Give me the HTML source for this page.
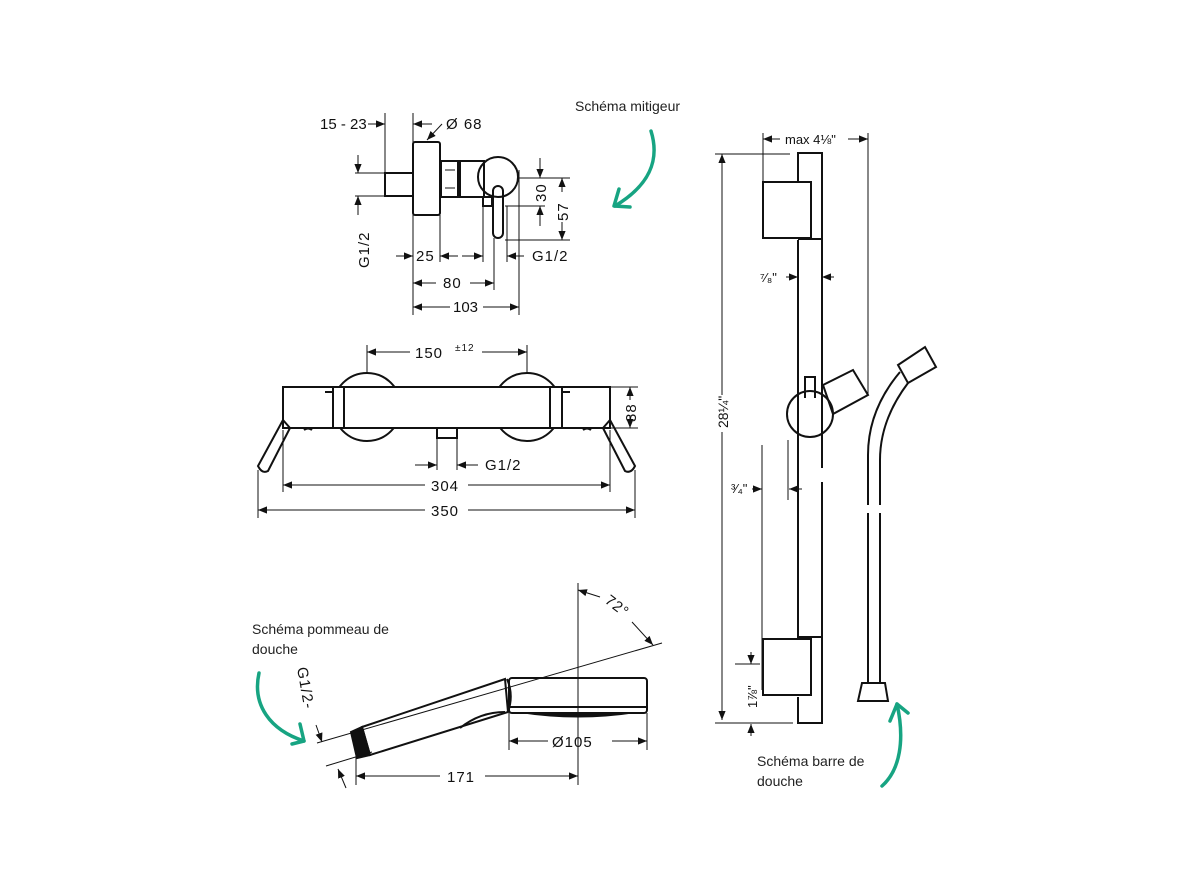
<!DOCTYPE html>
<html><head><meta charset="utf-8"><style>
html,body{margin:0;padding:0;background:#fff;}
svg{display:block;}
text{font-family:"Liberation Sans",sans-serif;fill:#111;}
.l{fill:none;stroke:#111;stroke-width:2;}
.t{fill:none;stroke:#111;stroke-width:1;}
.g{fill:none;stroke:#17a482;stroke-width:3.5;stroke-linecap:round;stroke-linejoin:round;}
.lab{font-size:14px;fill:#222;}
.d{font-size:15px;letter-spacing:1px;}
</style></head><body>
<svg width="1190" height="892" viewBox="0 0 1190 892" xmlns="http://www.w3.org/2000/svg">
<defs>
<marker id="a" viewBox="0 0 10 10" refX="10" refY="5" markerWidth="9" markerHeight="9" orient="auto-start-reverse" markerUnits="userSpaceOnUse"><path d="M0,1 L10,5 L0,9 z" fill="#111"/></marker>
</defs>

<!-- ================= MIXER (top) ================= -->
<rect class="l" x="385" y="173" width="28" height="23"/>
<rect class="l" x="413" y="142" width="27" height="73" rx="2"/>
<rect class="l" x="441" y="161" width="17" height="36"/>
<line class="t" x1="445" y1="170" x2="455" y2="170"/><line class="t" x1="445" y1="188" x2="455" y2="188"/>
<rect class="l" x="460" y="161" width="24" height="36"/>
<circle class="l" cx="498" cy="177" r="20" fill="#fff"/>
<rect class="l" x="483" y="197" width="9" height="9"/>
<rect class="l" x="493" y="186" width="10" height="52" rx="5" fill="#fff"/>
<line class="t" x1="385" y1="113" x2="385" y2="173"/>
<line class="t" x1="413" y1="113" x2="413" y2="315"/>
<line class="t" x1="440" y1="215" x2="440" y2="262"/>
<line class="t" x1="483" y1="206" x2="483" y2="262"/>
<line class="t" x1="494" y1="238" x2="494" y2="290"/>
<line class="t" x1="507" y1="206" x2="507" y2="262"/>
<line class="t" x1="519" y1="170" x2="519" y2="315"/>
<line class="t" x1="355" y1="173" x2="385" y2="173"/>
<line class="t" x1="355" y1="196" x2="385" y2="196"/>
<line class="t" x1="518" y1="178" x2="570" y2="178"/>
<line class="t" x1="505" y1="206" x2="545" y2="206"/>
<line class="t" x1="505" y1="240" x2="570" y2="240"/>
<text class="d" x="320" y="129" style="letter-spacing:0">15 - 23</text>
<line class="t" x1="368" y1="124" x2="385" y2="124" marker-end="url(#a)"/>
<line class="t" x1="432" y1="124" x2="413" y2="124" marker-end="url(#a)"/>
<text class="d" x="446" y="129">Ø 68</text>
<line class="t" x1="442" y1="124" x2="427" y2="140" marker-end="url(#a)"/>
<line class="t" x1="358" y1="155" x2="358" y2="173" marker-end="url(#a)"/>
<line class="t" x1="358" y1="215" x2="358" y2="196" marker-end="url(#a)"/>
<text class="d" transform="translate(369,268) rotate(-90)">G1/2</text>
<line class="t" x1="540" y1="158" x2="540" y2="178" marker-end="url(#a)"/>
<line class="t" x1="540" y1="226" x2="540" y2="206" marker-end="url(#a)"/>
<text class="d" transform="translate(546,202) rotate(-90)">30</text>
<line class="t" x1="562" y1="192" x2="562" y2="178" marker-end="url(#a)"/>
<line class="t" x1="562" y1="222" x2="562" y2="240" marker-end="url(#a)"/>
<text class="d" transform="translate(568,221) rotate(-90)">57</text>
<line class="t" x1="396" y1="256" x2="413" y2="256" marker-end="url(#a)"/>
<text class="d" x="416" y="261">25</text>
<line class="t" x1="458" y1="256" x2="440" y2="256" marker-end="url(#a)"/>
<line class="t" x1="462" y1="256" x2="483" y2="256" marker-end="url(#a)"/>
<line class="t" x1="524" y1="256" x2="507" y2="256" marker-end="url(#a)"/>
<text class="d" x="532" y="261">G1/2</text>
<line class="t" x1="436" y1="283" x2="413" y2="283" marker-end="url(#a)"/>
<line class="t" x1="470" y1="283" x2="494" y2="283" marker-end="url(#a)"/>
<text class="d" x="443" y="288">80</text>
<line class="t" x1="450" y1="307" x2="413" y2="307" marker-end="url(#a)"/>
<line class="t" x1="483" y1="307" x2="519" y2="307" marker-end="url(#a)"/>
<text class="d" x="453" y="312" style="letter-spacing:0">103</text>

<text class="lab" x="575" y="111">Schéma mitigeur</text>
<path class="g" d="M651,131 C660,160 650,185 615,206"/>
<path class="g" d="M619,189 L614,206 L630,207"/>

<!-- ================= THERMOSTAT ================= -->
<circle class="l" cx="367" cy="407" r="34"/>
<circle class="l" cx="527" cy="407" r="34"/>
<rect x="283" y="387" width="327" height="41" fill="#fff" stroke="#111" stroke-width="2"/>
<line class="l" x1="333" y1="387" x2="333" y2="428"/><line class="l" x1="344" y1="387" x2="344" y2="428"/>
<line class="l" x1="550" y1="387" x2="550" y2="428"/><line class="l" x1="562" y1="387" x2="562" y2="428"/>
<line class="l" x1="325" y1="392" x2="333" y2="392"/><line class="l" x1="562" y1="392" x2="570" y2="392"/>
<path class="l" d="M304,430 q4,-3 8,0"/><path class="l" d="M583,430 q4,-3 8,0"/>
<rect class="l" x="437" y="428" width="20" height="10"/>
<path class="l" d="M283,420 L290,428 L268,471 Q262,474 258,466 Z" fill="#fff"/>
<path class="l" d="M610,420 L603,428 L625,471 Q631,474 635,466 Z" fill="#fff"/>
<line class="t" x1="367" y1="345" x2="367" y2="373"/><line class="t" x1="527" y1="345" x2="527" y2="373"/>
<line class="t" x1="410" y1="352" x2="367" y2="352" marker-end="url(#a)"/>
<line class="t" x1="482" y1="352" x2="527" y2="352" marker-end="url(#a)"/>
<text class="d" x="415" y="358">150</text><text x="455" y="351" style="font-size:10px;letter-spacing:1px">±12</text>
<line class="t" x1="610" y1="387" x2="638" y2="387"/><line class="t" x1="610" y1="428" x2="638" y2="428"/>
<line class="t" x1="630" y1="400" x2="630" y2="387" marker-end="url(#a)"/>
<line class="t" x1="630" y1="415" x2="630" y2="428" marker-end="url(#a)"/>
<text class="d" transform="translate(636,422) rotate(-90)">38</text>
<line class="t" x1="437" y1="438" x2="437" y2="470"/><line class="t" x1="457" y1="438" x2="457" y2="470"/>
<line class="t" x1="415" y1="465" x2="437" y2="465" marker-end="url(#a)"/>
<line class="t" x1="478" y1="465" x2="457" y2="465" marker-end="url(#a)"/>
<text class="d" x="485" y="470">G1/2</text>
<line class="t" x1="283" y1="430" x2="283" y2="492"/><line class="t" x1="610" y1="430" x2="610" y2="492"/>
<line class="t" x1="258" y1="470" x2="258" y2="518"/><line class="t" x1="635" y1="470" x2="635" y2="518"/>
<line class="t" x1="425" y1="485" x2="283" y2="485" marker-end="url(#a)"/>
<line class="t" x1="468" y1="485" x2="610" y2="485" marker-end="url(#a)"/>
<text class="d" x="431" y="491">304</text>
<line class="t" x1="425" y1="510" x2="258" y2="510" marker-end="url(#a)"/>
<line class="t" x1="468" y1="510" x2="635" y2="510" marker-end="url(#a)"/>
<text class="d" x="431" y="516">350</text>

<!-- ================= HAND SHOWER ================= -->
<path class="l" d="M362,727 L505,679 L508,712 L370,755 Z" fill="#fff"/>
<path class="l" d="M460,728 Q480,712 505,712"/>
<path d="M351,732 L362,727 L370,755 L357,758 Z" fill="#111" stroke="#111" stroke-width="2"/>
<path class="l" d="M507,679 Q514,695 508,712"/>
<rect class="l" x="509" y="678" width="138" height="35" rx="3" fill="none"/>
<line class="l" x1="509" y1="707" x2="647" y2="707"/>
<path d="M520,713 Q578,722 636,713 Z" fill="#111"/>
<line class="t" x1="317" y1="743" x2="662" y2="643"/>
<line class="t" x1="326" y1="766" x2="372" y2="752"/>
<line class="t" x1="578" y1="583" x2="578" y2="785"/>
<line class="t" x1="509" y1="713" x2="509" y2="750"/><line class="t" x1="647" y1="713" x2="647" y2="750"/>
<line class="t" x1="548" y1="741" x2="509" y2="741" marker-end="url(#a)"/>
<line class="t" x1="612" y1="741" x2="647" y2="741" marker-end="url(#a)"/>
<text class="d" x="552" y="747">Ø105</text>
<line class="t" x1="356" y1="752" x2="356" y2="785"/>
<line class="t" x1="440" y1="776" x2="356" y2="776" marker-end="url(#a)"/>
<line class="t" x1="485" y1="776" x2="578" y2="776" marker-end="url(#a)"/>
<text class="d" x="447" y="782">171</text>
<line class="t" x1="600" y1="597" x2="578" y2="590" marker-end="url(#a)"/>
<text class="d" transform="translate(604,602) rotate(38)">72°</text>
<line class="t" x1="632" y1="622" x2="653" y2="645" marker-end="url(#a)"/>
<text class="d" transform="translate(297,668) rotate(80)">G1/2-</text>
<line class="t" x1="316" y1="725" x2="322" y2="742" marker-end="url(#a)"/>
<line class="t" x1="346" y1="788" x2="338" y2="769" marker-end="url(#a)"/>

<text class="lab" x="252" y="634">Schéma pommeau de</text>
<text class="lab" x="252" y="654">douche</text>
<path class="g" d="M259,673 C252,705 270,730 304,741"/>
<path class="g" d="M300,724 L304,741 L292,744"/>

<!-- ================= SHOWER BAR ================= -->
<path class="l" d="M798,182 L798,153 L822,153 L822,723 L798,723 L798,697"/>
<line class="l" x1="798" y1="240" x2="798" y2="639"/>
<rect class="l" x="763" y="182" width="48" height="56" fill="#fff"/>
<line class="l" x1="798" y1="239" x2="822" y2="239"/>
<rect class="l" x="763" y="639" width="48" height="56" fill="#fff"/>
<line class="l" x1="798" y1="637" x2="822" y2="637"/>
<path class="l" d="M823,385 L853,370 L868,395 L833,414 Z" fill="#fff"/>
<path class="l" d="M805,398 L805,377 L815,377 L815,398" fill="#fff"/>
<circle class="l" cx="810" cy="414" r="23" fill="#fff"/>
<rect x="818" y="468" width="8" height="14" fill="#fff"/>
<path class="l" d="M868,505 L868,455 Q868,410 900,372"/>
<path class="l" d="M880,505 L880,460 Q880,420 908,383"/>
<line class="l" x1="868" y1="513" x2="868" y2="683"/><line class="l" x1="880" y1="513" x2="880" y2="683"/>
<path class="l" d="M898,365 L925,347 L936,367 L908,383 Z" fill="#fff"/>
<path class="l" d="M862,683 L885,683 L888,701 L858,701 Z" fill="#fff"/>
<line class="t" x1="763" y1="133" x2="763" y2="182"/>
<line class="t" x1="868" y1="133" x2="868" y2="395"/>
<line class="t" x1="780" y1="139" x2="763" y2="139" marker-end="url(#a)"/>
<line class="t" x1="848" y1="139" x2="868" y2="139" marker-end="url(#a)"/>
<text x="785" y="144" style="font-size:13px">max 4⅛"</text>
<line class="t" x1="715" y1="154" x2="790" y2="154"/>
<line class="t" x1="715" y1="723" x2="793" y2="723"/>
<line class="t" x1="722" y1="395" x2="722" y2="154" marker-end="url(#a)"/>
<line class="t" x1="722" y1="432" x2="722" y2="720" marker-end="url(#a)"/>
<text transform="translate(728,428) rotate(-90)" style="font-size:14px">28¼"</text>
<text x="760" y="282" style="font-size:13px">⁷⁄₈"</text>
<line class="t" x1="786" y1="277" x2="798" y2="277" marker-end="url(#a)"/>
<line class="t" x1="834" y1="277" x2="822" y2="277" marker-end="url(#a)"/>
<line class="t" x1="762" y1="445" x2="762" y2="690"/>
<line class="t" x1="788" y1="440" x2="788" y2="500"/>
<text x="731" y="493" style="font-size:13px">³⁄₄"</text>
<line class="t" x1="752" y1="489" x2="762" y2="489" marker-end="url(#a)"/>
<line class="t" x1="802" y1="489" x2="789" y2="489" marker-end="url(#a)"/>
<line class="t" x1="735" y1="664" x2="760" y2="664"/>
<line class="t" x1="751" y1="652" x2="751" y2="664" marker-end="url(#a)"/>
<line class="t" x1="751" y1="736" x2="751" y2="724" marker-end="url(#a)"/>
<text transform="translate(757,708) rotate(-90)" style="font-size:13px">1⅞"</text>

<text class="lab" x="757" y="766">Schéma barre de</text>
<text class="lab" x="757" y="786">douche</text>
<path class="g" d="M882,786 C900,770 905,740 897,704"/>
<path class="g" d="M890,721 L897,704 L908,713"/>
</svg>
</body></html>
